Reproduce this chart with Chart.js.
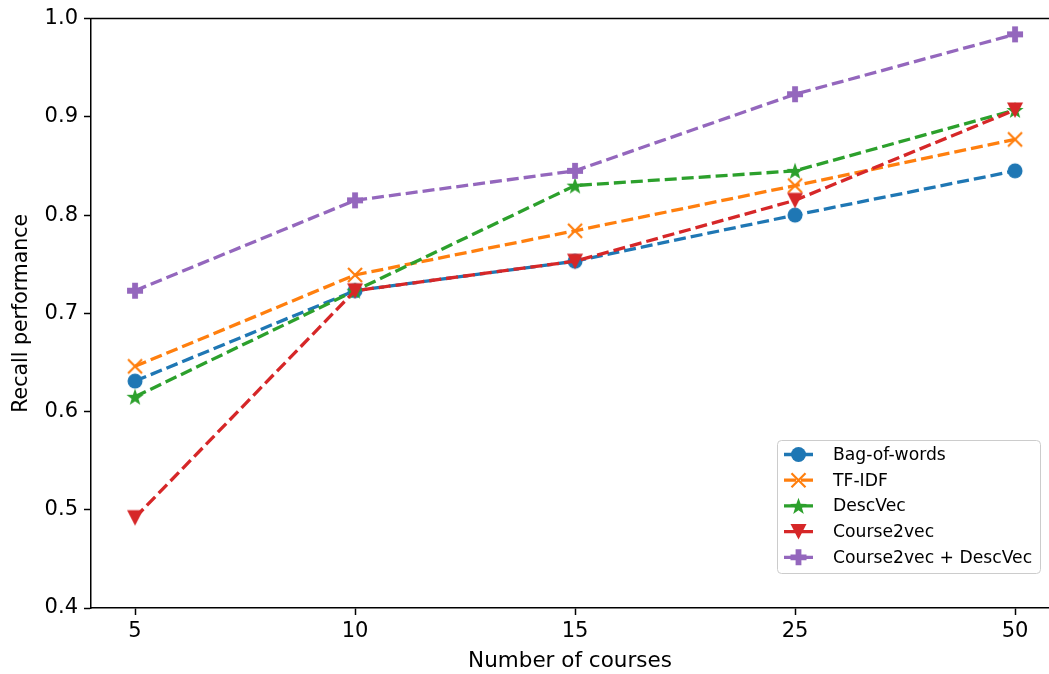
<!DOCTYPE html>
<html><head><meta charset="utf-8">
<script src="https://cdn.jsdelivr.net/npm/chart.js@4"></script>
<style>html,body{margin:0;padding:0;background:#fff}#wrap{width:1049px;height:674px}</style>
</head><body><div id="wrap"><canvas id="c" width="1049" height="674"></canvas></div>
<script>
const categories = ['5', '10', '15', '25', '50'];
const seriesNames = ['Bag-of-words', 'TF-IDF', 'DescVec', 'Course2vec', 'Course2vec + DescVec'];
const bagOfWords = [0.631, 0.723, 0.753, 0.800, 0.845];
const tfIdf = [0.646, 0.739, 0.784, 0.830, 0.877];
const descVec = [0.615, 0.723, 0.830, 0.845, 0.907];
const course2vec = [0.492, 0.723, 0.753, 0.815, 0.907];
const course2vecDescVec = [0.723, 0.815, 0.845, 0.923, 0.984];
const yTicks = [0.4, 0.5, 0.6, 0.7, 0.8, 0.9, 1.0];

const seriesValues = [bagOfWords, tfIdf, descVec, course2vec, course2vecDescVec];
const colors = ['#1f77b4', '#ff7f0e', '#2ca02c', '#d62728', '#9467bd'];
const markers = ['circle', 'x', 'star', 'tridown', 'plus'];
const FONT = "'DejaVu Sans', sans-serif";
const DASH = [12, 5];

function drawMarker(g, kind, x, y, color) {
  g.save();
  g.fillStyle = color; g.strokeStyle = color;
  g.translate(x, y);
  g.beginPath();
  if (kind === 'circle') {
    g.arc(0, 0, 7.5, 0, Math.PI * 2); g.fill();
  } else if (kind === 'x') {
    g.lineWidth = 2.2; g.lineCap = 'butt';
    g.moveTo(-7, -7); g.lineTo(7, 7);
    g.moveTo(7, -7); g.lineTo(-7, 7);
    g.stroke();
  } else if (kind === 'star') {
    const R = 9, r = 3.6;
    for (let k = 0; k < 10; k++) {
      const a = -Math.PI / 2 + k * Math.PI / 5;
      const rr = k % 2 === 0 ? R : r;
      const px = rr * Math.cos(a), py = rr * Math.sin(a) + 0.8;
      if (k === 0) g.moveTo(px, py); else g.lineTo(px, py);
    }
    g.closePath(); g.fill();
  } else if (kind === 'tridown') {
    g.moveTo(-8, -7.5); g.lineTo(8, -7.5); g.lineTo(0, 8); g.closePath(); g.fill();
  } else if (kind === 'plus') {
    const a = 8, t = 2.9;
    g.moveTo(-t, -a); g.lineTo(t, -a); g.lineTo(t, -t); g.lineTo(a, -t); g.lineTo(a, t);
    g.lineTo(t, t); g.lineTo(t, a); g.lineTo(-t, a); g.lineTo(-t, t); g.lineTo(-a, t);
    g.lineTo(-a, -t); g.lineTo(-t, -t); g.closePath(); g.fill();
  }
  g.restore();
}
function markerCanvas(kind, color) {
  const s = 24, c = document.createElement('canvas');
  c.width = s; c.height = s;
  drawMarker(c.getContext('2d'), kind, s / 2, s / 2, color);
  return c;
}

const datasets = seriesNames.map((name, i) => ({
  label: name,
  data: seriesValues[i].map((v, j) => ({ x: j, y: v })),
  borderColor: colors[i],
  backgroundColor: colors[i],
  borderWidth: 3.3,
  borderDash: DASH,
  pointStyle: markerCanvas(markers[i], colors[i]),
  pointRadius: 8,
  pointHoverRadius: 8,
  fill: false,
  tension: 0,
  order: seriesNames.length - i,
  clip: false
}));

const frame = {
  id: 'frame',
  afterDraw(chart) {
    const { ctx, chartArea } = chart;
    ctx.save();
    ctx.strokeStyle = '#000'; ctx.lineWidth = 1.5;
    ctx.beginPath();
    ctx.moveTo(chartArea.left - 0.75, chartArea.top);
    ctx.lineTo(chart.width, chartArea.top);
    ctx.stroke();
    // legend
    const bx = 777, by = 440.5, bw = 263, bh = 133, rowH = 25.7;
    ctx.fillStyle = 'rgba(255,255,255,0.8)';
    ctx.strokeStyle = '#cccccc'; ctx.lineWidth = 1;
    ctx.beginPath();
    ctx.roundRect(bx + 0.5, by, bw, bh, 4);
    ctx.fill(); ctx.stroke();
    ctx.font = '17.2px ' + FONT;
    ctx.textBaseline = 'middle';
    ctx.textAlign = 'left';
    chart.data.datasets.forEach((ds, i) => {
      const y = by + 14 + i * rowH;
      ctx.strokeStyle = ds.borderColor; ctx.lineWidth = 3.3;
      ctx.setLineDash(DASH);
      ctx.beginPath(); ctx.moveTo(784, y); ctx.lineTo(813, y); ctx.stroke();
      ctx.setLineDash([]);
      drawMarker(ctx, markers[i], 798.5, y, ds.borderColor);
      ctx.fillStyle = '#000';
      ctx.fillText(ds.label, 833, y + 1);
    });
    ctx.restore();
  }
};

new Chart(document.getElementById('c'), {
  type: 'line',
  data: { datasets },
  options: {
    responsive: false,
    animation: false,
    devicePixelRatio: 1,
    layout: { autoPadding: false, padding: { top: 18, left: 0, right: 0, bottom: 0 } },
    plugins: { legend: { display: false }, tooltip: { enabled: false } },
    scales: {
      x: {
        type: 'linear',
        min: -0.2,
        max: 4.1545,
        afterBuildTicks: s => { s.ticks = categories.map((_, i) => ({ value: i })); },
        afterFit: s => { s.height = 66; s.paddingLeft = 0; s.paddingRight = 0; },
        ticks: {
          callback: v => categories[Math.round(v)],
          font: { family: FONT, size: 21 },
          color: '#000',
          padding: 4,
          autoSkip: false,
          maxRotation: 0
        },
        grid: { display: true, drawOnChartArea: false, drawTicks: true, tickLength: 7, tickWidth: 1.5, tickColor: '#000' },
        border: { display: true, color: '#000', width: 1.5 },
        title: { display: true, text: 'Number of courses', color: '#000', font: { family: FONT, size: 21.5 }, padding: { top: 0, bottom: 0 } }
      },
      y: {
        type: 'linear',
        min: 0.4,
        max: 1.0,
        afterBuildTicks: s => { s.ticks = yTicks.map(v => ({ value: v })); },
        afterFit: s => { s.width = 91; },
        ticks: {
          callback: v => Number(v).toFixed(1),
          font: { family: FONT, size: 21 },
          color: '#000',
          padding: 6
        },
        grid: { display: true, drawOnChartArea: false, drawTicks: true, tickLength: 7, tickWidth: 1.5, tickColor: '#000' },
        border: { display: true, color: '#000', width: 1.5 },
        title: { display: true, text: 'Recall performance', color: '#000', font: { family: FONT, size: 20.5 }, padding: { top: 9, bottom: 0 } }
      }
    }
  },
  plugins: [frame]
});
</script>
</body></html>
